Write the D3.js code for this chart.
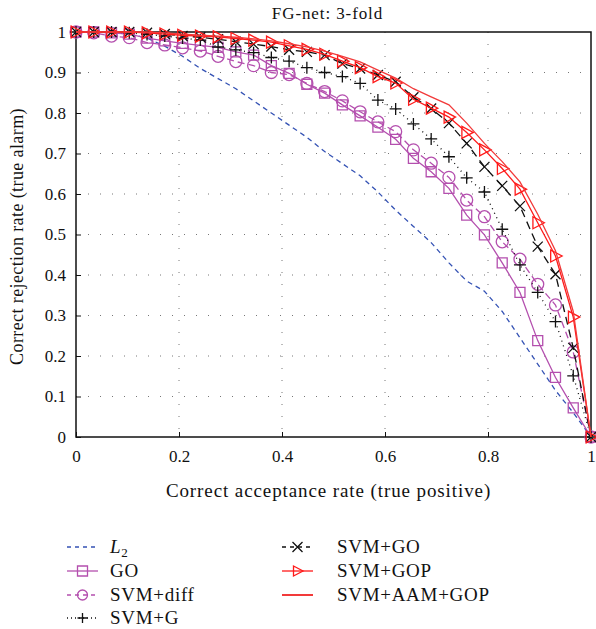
<!DOCTYPE html>
<html>
<head>
<meta charset="utf-8">
<script src="https://cdn.jsdelivr.net/npm/d3@7"></script>
<style>
  html, body { margin: 0; padding: 0; background: #fff; overflow: hidden; }
  svg { display: block; }
</style>
</head>
<body>
<svg class="roc" width="596" height="629" font-family="Liberation Serif, serif"></svg>
<script>
// shared x grid (30 thresholds)
const xs = d3.range(30).map(i => i / 29);

const l2 = [1, 1, 0.999, 0.995, 0.985, 0.965, 0.94, 0.91, 0.885, 0.86,
  0.83, 0.8, 0.77, 0.74, 0.705, 0.675, 0.645, 0.605, 0.56, 0.52,
  0.48, 0.43, 0.385, 0.36, 0.31, 0.245, 0.18, 0.115, 0.06, 0];
const go = [1, 1, 0.998, 0.995, 0.985, 0.978, 0.972, 0.967, 0.962, 0.951,
  0.943, 0.917, 0.898, 0.871, 0.849, 0.82, 0.793, 0.765, 0.735, 0.688,
  0.655, 0.614, 0.548, 0.499, 0.43, 0.357, 0.238, 0.147, 0.072, 0];
const svmDiff = [1, 0.998, 0.99, 0.986, 0.974, 0.968, 0.961, 0.953, 0.94, 0.927,
  0.917, 0.9, 0.895, 0.873, 0.853, 0.83, 0.803, 0.778, 0.754, 0.709,
  0.676, 0.641, 0.585, 0.544, 0.482, 0.439, 0.377, 0.326, 0.21, 0];
const svmG = [1, 1, 1, 0.998, 0.994, 0.99, 0.985, 0.98, 0.963, 0.956,
  0.949, 0.937, 0.928, 0.912, 0.9, 0.89, 0.873, 0.832, 0.81, 0.773,
  0.736, 0.692, 0.64, 0.605, 0.513, 0.425, 0.357, 0.285, 0.151, 0];
const svmGO = [1, 1, 1, 1, 0.998, 0.995, 0.99, 0.987, 0.982, 0.976,
  0.97, 0.964, 0.956, 0.951, 0.943, 0.922, 0.91, 0.894, 0.877, 0.839,
  0.811, 0.775, 0.725, 0.667, 0.62, 0.57, 0.47, 0.402, 0.22, 0];
const svmGOP = [1, 1, 1, 1, 0.998, 0.995, 0.992, 0.99, 0.988, 0.984,
  0.98, 0.975, 0.966, 0.957, 0.945, 0.928, 0.912, 0.89, 0.874, 0.834,
  0.812, 0.79, 0.752, 0.709, 0.663, 0.612, 0.529, 0.447, 0.296, 0];
const svmAAM = [1, 1, 1, 1, 1, 0.998, 0.995, 0.992, 0.99, 0.987,
  0.983, 0.978, 0.971, 0.963, 0.953, 0.94, 0.926, 0.906, 0.886, 0.86,
  0.84, 0.82, 0.775, 0.725, 0.68, 0.63, 0.55, 0.46, 0.31, 0];

const xTicks = [0, 0.2, 0.4, 0.6, 0.8, 1];
const yTicks = [0, 0.1, 0.2, 0.3, 0.4, 0.5, 0.6, 0.7, 0.8, 0.9, 1];

const svg = d3.select('.roc');
const margin = { top: 32, right: 5, bottom: 192, left: 76 };
const width = +svg.attr('width'), height = +svg.attr('height');
const innerWidth = width - margin.left - margin.right;
const innerHeight = height - margin.top - margin.bottom;

const xScale = d3.scaleLinear().domain([0, 1]).range([0, innerWidth]);
const yScale = d3.scaleLinear().domain([0, 1]).range([innerHeight, 0]);

// marker shapes
const mk = {
  square: s => `M${-s},${-s}H${s}V${s}H${-s}Z`,
  circle: s => `M${-s},0A${s},${s} 0 1,0 ${s},0A${s},${s} 0 1,0 ${-s},0Z`,
  plus: s => `M${-s},0H${s}M0,${-s}V${s}`,
  cross: s => `M${-s},${-s}L${s},${s}M${-s},${s}L${s},${-s}`,
  tri: s => `M${-s * 0.8},${-s}L${s * 1.1},0L${-s * 0.8},${s}Z`,
  none: () => ''
};

const series = [
  { name: 'L2', values: l2, color: '#3452b4', dash: '5,4', marker: 'none', size: 0, col: 0 },
  { name: 'GO', values: go, color: '#b44fae', dash: null, marker: 'square', size: 5, col: 0 },
  { name: 'SVM+diff', values: svmDiff, color: '#b44fae', dash: '7,4', marker: 'circle', size: 6, col: 0 },
  { name: 'SVM+G', values: svmG, color: '#111', dash: '1,4', marker: 'plus', size: 6, col: 0 },
  { name: 'SVM+GO', values: svmGO, color: '#111', dash: '8,5', marker: 'cross', size: 5, col: 1 },
  { name: 'SVM+GOP', values: svmGOP, color: '#ff1a1a', dash: null, marker: 'tri', size: 6, col: 1 },
  { name: 'SVM+AAM+GOP', values: svmAAM, color: '#f23a3a', dash: null, marker: 'none', size: 0, col: 1 }
];

const g = svg.append('g')
  .attr('transform', `translate(${margin.left}, ${margin.top})`);

// dotted grid
g.append('g').selectAll('line').data(xTicks.slice(1, -1)).enter().append('line')
  .attr('x1', d => xScale(d)).attr('x2', d => xScale(d))
  .attr('y1', 0).attr('y2', innerHeight)
  .attr('stroke', '#777').attr('stroke-width', 1).attr('stroke-dasharray', '1,11');
g.append('g').selectAll('line').data(yTicks.slice(1, -1)).enter().append('line')
  .attr('y1', d => yScale(d)).attr('y2', d => yScale(d))
  .attr('x1', 0).attr('x2', innerWidth)
  .attr('stroke', '#777').attr('stroke-width', 1).attr('stroke-dasharray', '1,11');

// axes
const xAxis = d3.axisBottom(xScale).tickValues(xTicks).tickFormat(d3.format('')).tickSize(-5).tickPadding(13);
const yAxis = d3.axisLeft(yScale).tickValues(yTicks).tickFormat(d3.format('')).tickSize(-5).tickPadding(10);

const xAxisG = g.append('g').call(xAxis)
  .attr('transform', `translate(0, ${innerHeight})`);
const yAxisG = g.append('g').call(yAxis);
[xAxisG, yAxisG].forEach(a => {
  a.attr('font-family', 'Liberation Serif, serif').attr('font-size', 17);
  a.select('.domain').remove();
  a.selectAll('line').attr('stroke', '#111');
  a.selectAll('text').attr('fill', '#111');
});

g.append('rect')
  .attr('width', innerWidth).attr('height', innerHeight)
  .attr('fill', 'none').attr('stroke', '#111').attr('stroke-width', 1.5);

// curves
const line = d3.line()
  .x((d, i) => xScale(xs[i]))
  .y(d => yScale(d));

series.forEach(s => {
  g.append('path')
    .datum(s.values)
    .attr('d', line)
    .attr('fill', 'none')
    .attr('stroke', s.color)
    .attr('stroke-width', 1.3)
    .attr('stroke-dasharray', s.dash);
  if (s.marker !== 'none') {
    g.append('g').selectAll('path').data(s.values).enter().append('path')
      .attr('transform', (d, i) => `translate(${xScale(xs[i])},${yScale(d)})`)
      .attr('d', mk[s.marker](s.size))
      .attr('fill', 'none')
      .attr('stroke', s.color)
      .attr('stroke-width', 1.3);
  }
});

// title and axis labels
svg.append('text')
  .attr('x', margin.left + innerWidth / 2 - 6).attr('y', 19)
  .attr('text-anchor', 'middle').attr('font-size', 17).attr('fill', '#111')
  .attr('letter-spacing', 0.9)
  .text('FG-net: 3-fold');

svg.append('text')
  .attr('x', margin.left + innerWidth / 2 - 5).attr('y', 497)
  .attr('text-anchor', 'middle').attr('font-size', 19).attr('fill', '#111')
  .attr('letter-spacing', 0.9)
  .text('Correct acceptance rate (true positive)');

svg.append('text')
  .attr('transform', `translate(23, ${margin.top + innerHeight / 2 + 2}) rotate(-90)`)
  .attr('text-anchor', 'middle').attr('font-size', 18).attr('fill', '#111')
  .attr('letter-spacing', 0.4)
  .text('Correct rejection rate (true alarm)');

// legend
const legend = svg.append('g');
const colX = [67, 282];
const rowY = [547, 571, 595, 618];
const rowIdx = [0, 0];

series.forEach(s => {
  const r = rowIdx[s.col]++;
  const lx = colX[s.col], ly = rowY[r];
  const item = legend.append('g').attr('transform', `translate(${lx}, ${ly})`);
  item.append('line')
    .attr('x1', 0).attr('x2', 31)
    .attr('stroke', s.color).attr('stroke-width', s.name === 'SVM+AAM+GOP' ? 2 : 1.3)
    .attr('stroke-dasharray', s.dash ? (s.dash === '1,4' ? '1,3' : '4,4') : null);
  if (s.marker !== 'none') {
    item.append('path')
      .attr('transform', 'translate(15.5,0)')
      .attr('d', mk[s.marker](5))
      .attr('fill', 'none').attr('stroke', s.color).attr('stroke-width', 1.3);
  }
  const t = item.append('text')
    .attr('x', s.col === 0 ? 43 : 55).attr('y', 6)
    .attr('font-size', 19).attr('fill', '#111')
    .attr('letter-spacing', 0.7);
  if (s.name === 'L2') {
    t.append('tspan').attr('font-style', 'italic').text('L');
    t.append('tspan').attr('dy', 4).attr('font-size', 13).text('2');
  } else {
    t.text(s.name);
  }
});
</script>
</body>
</html>
